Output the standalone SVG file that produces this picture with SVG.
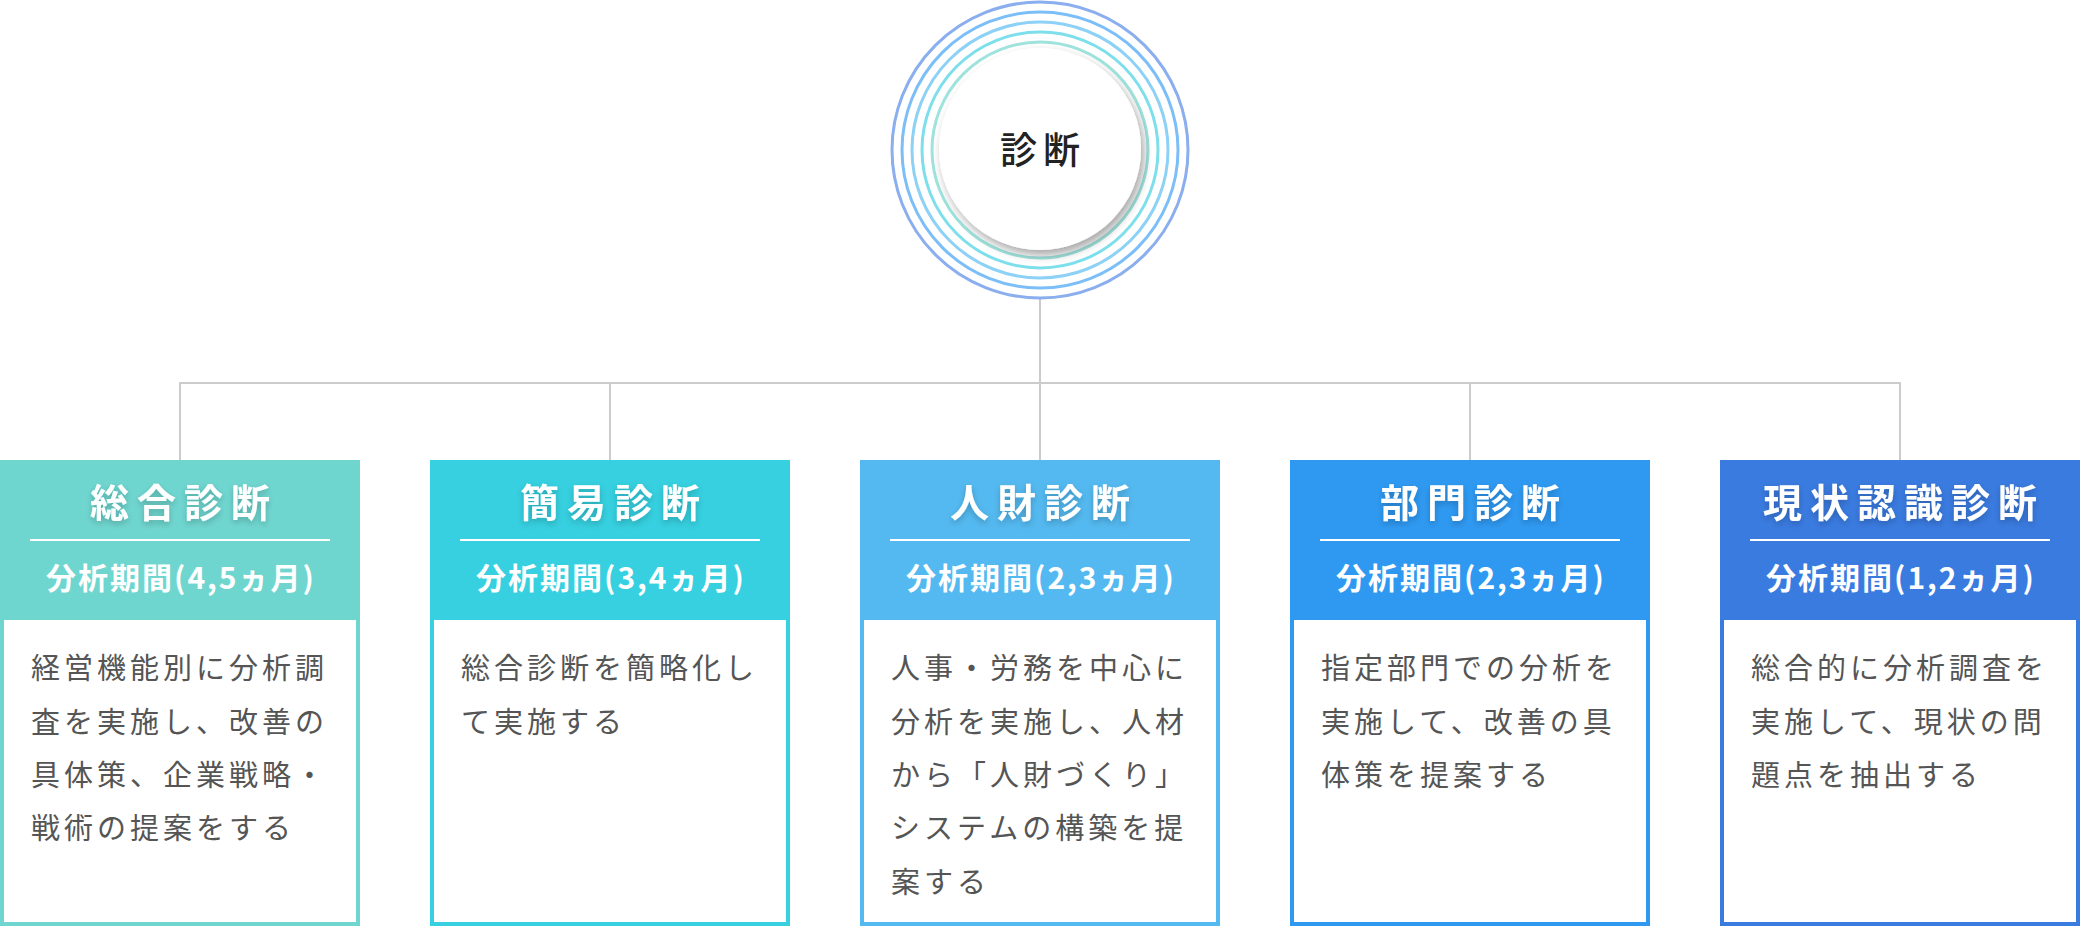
<svg xmlns="http://www.w3.org/2000/svg" width="2080" height="926" viewBox="0 0 2080 926">
<defs>
<filter id="tsh" x="-20%" y="-40%" width="140%" height="180%">
<feDropShadow dx="0" dy="3" stdDeviation="3" flood-color="#000" flood-opacity="0.22"/>
</filter>
<filter id="csh" x="-30%" y="-30%" width="160%" height="160%">
<feDropShadow dx="3" dy="5" stdDeviation="5" flood-color="#000" flood-opacity="0.35"/>
</filter>
</defs>
<style>
.conn{stroke:#cccccc;stroke-width:2;fill:none}
.ring{fill:none;stroke-width:3}
.title{font-family:"Noto Sans CJK JP","Noto Sans",sans-serif;font-size:39px;font-weight:700;fill:#fff;letter-spacing:8px;text-anchor:middle}
.sub{font-family:"Noto Sans CJK JP","Noto Sans",sans-serif;font-size:30px;font-weight:700;fill:#fff;letter-spacing:2px;text-anchor:middle}
.body{font-family:"Noto Sans CJK JP","Noto Sans",sans-serif;font-size:29px;font-weight:400;fill:#555;letter-spacing:4px}
.sep{stroke:#fff;stroke-width:2}
.main{font-family:"Noto Sans CJK JP","Noto Sans",sans-serif;font-size:37px;font-weight:500;fill:#222;letter-spacing:6px;text-anchor:middle}
</style>
<rect width="2080" height="926" fill="#fff"/>
<g id="connectors">
<line class="conn" x1="1040" y1="298" x2="1040" y2="383"/>
<line class="conn" x1="179" y1="383" x2="1901" y2="383"/>
<line class="conn" x1="180" y1="383" x2="180" y2="460"/>
<line class="conn" x1="610" y1="383" x2="610" y2="460"/>
<line class="conn" x1="1040" y1="383" x2="1040" y2="460"/>
<line class="conn" x1="1470" y1="383" x2="1470" y2="460"/>
<line class="conn" x1="1900" y1="383" x2="1900" y2="460"/>
</g>
<g id="root">
<circle class="ring" cx="1040" cy="150" r="148" stroke="#8aaeee"/>
<circle class="ring" cx="1040" cy="150" r="138" stroke="#7cbff8"/>
<circle class="ring" cx="1040" cy="150" r="128" stroke="#8dd2f6"/>
<circle class="ring" cx="1040" cy="150" r="118" stroke="#7edfec"/>
<circle class="ring" cx="1040" cy="150" r="108" stroke="#a0e3dd"/>
<circle cx="1040" cy="149" r="101" fill="#fff" filter="url(#csh)"/>
<text class="main" x="1043" y="164">診断</text>
</g>
<g id="node1">
<rect x="0" y="460" width="360" height="466" fill="#6fd6cf"/>
<rect x="4" y="620" width="352" height="302" fill="#fff"/>
<text class="title" x="184" y="517" filter="url(#tsh)">総合診断</text>
<line class="sep" x1="30" y1="540" x2="330" y2="540"/>
<text class="sub" x="181" y="589">分析期間(4,5ヵ月)</text>
<text class="body" x="31" y="679">経営機能別に分析調</text>
<text class="body" x="31" y="733">査を実施し、改善の</text>
<text class="body" x="31" y="786">具体策、企業戦略・</text>
<text class="body" x="31" y="839">戦術の提案をする</text>
</g>
<g id="node2">
<rect x="430" y="460" width="360" height="466" fill="#36d0e0"/>
<rect x="434" y="620" width="352" height="302" fill="#fff"/>
<text class="title" x="614" y="517" filter="url(#tsh)">簡易診断</text>
<line class="sep" x1="460" y1="540" x2="760" y2="540"/>
<text class="sub" x="611" y="589">分析期間(3,4ヵ月)</text>
<text class="body" x="461" y="679">総合診断を簡略化し</text>
<text class="body" x="461" y="733">て実施する</text>
</g>
<g id="node3">
<rect x="860" y="460" width="360" height="466" fill="#54b9f0"/>
<rect x="864" y="620" width="352" height="302" fill="#fff"/>
<text class="title" x="1044" y="517" filter="url(#tsh)">人財診断</text>
<line class="sep" x1="890" y1="540" x2="1190" y2="540"/>
<text class="sub" x="1041" y="589">分析期間(2,3ヵ月)</text>
<text class="body" x="891" y="679">人事・労務を中心に</text>
<text class="body" x="891" y="733">分析を実施し、人材</text>
<text class="body" x="891" y="786">から「人財づくり」</text>
<text class="body" x="891" y="839">システムの構築を提</text>
<text class="body" x="891" y="893">案する</text>
</g>
<g id="node4">
<rect x="1290" y="460" width="360" height="466" fill="#2f99f1"/>
<rect x="1294" y="620" width="352" height="302" fill="#fff"/>
<text class="title" x="1474" y="517" filter="url(#tsh)">部門診断</text>
<line class="sep" x1="1320" y1="540" x2="1620" y2="540"/>
<text class="sub" x="1471" y="589">分析期間(2,3ヵ月)</text>
<text class="body" x="1321" y="679">指定部門での分析を</text>
<text class="body" x="1321" y="733">実施して、改善の具</text>
<text class="body" x="1321" y="786">体策を提案する</text>
</g>
<g id="node5">
<rect x="1720" y="460" width="360" height="466" fill="#3a7be0"/>
<rect x="1724" y="620" width="352" height="302" fill="#fff"/>
<text class="title" x="1904" y="517" filter="url(#tsh)">現状認識診断</text>
<line class="sep" x1="1750" y1="540" x2="2050" y2="540"/>
<text class="sub" x="1901" y="589">分析期間(1,2ヵ月)</text>
<text class="body" x="1751" y="679">総合的に分析調査を</text>
<text class="body" x="1751" y="733">実施して、現状の問</text>
<text class="body" x="1751" y="786">題点を抽出する</text>
</g>
</svg>
